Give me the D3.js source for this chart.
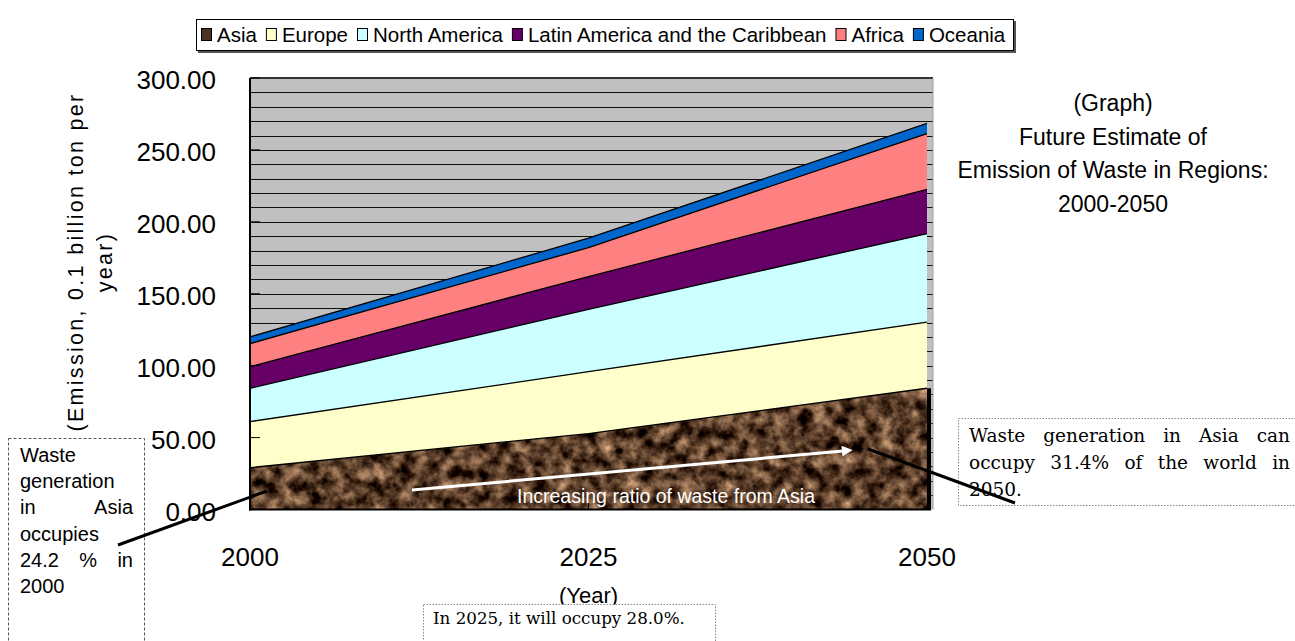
<!DOCTYPE html>
<html>
<head>
<meta charset="utf-8">
<script src="https://cdn.jsdelivr.net/npm/d3@7"></script>
<style>
  html, body { margin: 0; padding: 0; background: #fff; }
  svg { display: block; }
</style>
</head>
<body>
<svg id="chart" width="1295" height="641" font-family="Liberation Sans, Arial, sans-serif"></svg>
<script>
// Waste emission by region (0.1 billion ton per year)
const years = [2000, 2025, 2050];
const yearLabels = ["2000", "2025", "2050"];
const regions = ["Asia", "Europe", "North America", "Latin America and the Caribbean", "Africa", "Oceania"];
const asia = [29.1, 52.8, 84.3];
const europe = [32.0, 43.0, 46.0];
const northAmerica = [23.2, 43.4, 61.5];
const latinAmerica = [15.0, 22.7, 30.7];
const africa = [16.0, 20.2, 38.9];
const oceania = [4.7, 6.5, 7.0];
const yTicks = [0, 50, 100, 150, 200, 250, 300];
const gridValues = d3.range(10, 300, 10);

const seriesValues = [asia, europe, northAmerica, latinAmerica, africa, oceania];
const rows = years.map((yr, i) => {
  const r = { year: yr };
  regions.forEach((k, j) => r[k] = seriesValues[j][i]);
  return r;
});

const colors = {
  "Asia": "#4a3222",
  "Europe": "#ffffcc",
  "North America": "#ccffff",
  "Latin America and the Caribbean": "#660066",
  "Africa": "#ff8080",
  "Oceania": "#0066cc"
};

const SANS = "Liberation Sans, Arial, sans-serif";
const SERIF = "DejaVu Serif, Liberation Serif, serif";

const svg = d3.select("#chart");
const plot = { left: 250, right: 933, top: 78, bottom: 509.5 };

const x = d3.scaleLinear().domain([2000, 2050]).range([plot.left, 927]);
const y = d3.scaleLinear().domain([0, 300]).range([plot.bottom, plot.top]);

const defs = svg.append("defs");

// mottled brown texture for the Asia band
const filt = defs.append("filter").attr("id", "marble")
  .attr("filterUnits", "userSpaceOnUse")
  .attr("x", plot.left).attr("y", plot.top)
  .attr("width", plot.right - plot.left).attr("height", plot.bottom - plot.top)
  .attr("color-interpolation-filters", "sRGB");
filt.append("feTurbulence").attr("type", "fractalNoise")
  .attr("baseFrequency", "0.075").attr("numOctaves", 4).attr("seed", 7).attr("result", "n");
filt.append("feColorMatrix").attr("in", "n").attr("type", "matrix")
  .attr("values", "1.25 0 0 0 -0.27  1.05 0 0 0 -0.28  0.85 0 0 0 -0.26  0 0 0 0 1");

// plot background and grid
svg.append("rect")
  .attr("x", plot.left).attr("y", plot.top)
  .attr("width", plot.right - plot.left).attr("height", plot.bottom - plot.top)
  .attr("fill", "#c0c0c0");

svg.append("g").selectAll("line").data(gridValues).join("line")
  .attr("x1", plot.left).attr("x2", plot.right)
  .attr("y1", d => Math.round(y(d)) + 0.5).attr("y2", d => Math.round(y(d)) + 0.5)
  .attr("stroke", "#111").attr("stroke-width", 1);

svg.append("line")
  .attr("x1", plot.left).attr("x2", plot.right)
  .attr("y1", y(300)).attr("y2", y(300))
  .attr("stroke", "#333").attr("stroke-width", 2);
svg.append("line")
  .attr("x1", plot.right).attr("x2", plot.right)
  .attr("y1", y(300)).attr("y2", plot.bottom)
  .attr("stroke", "#a0a0a0").attr("stroke-width", 1);

// stacked areas
const stack = d3.stack().keys(regions);
const layers = stack(rows);
const area = d3.area()
  .x(d => x(d.data.year))
  .y0(d => y(d[0]))
  .y1(d => y(d[1]));

const clip = defs.append("clipPath").attr("id", "asiaClip");
clip.append("path").attr("d", area(layers[0]));

svg.append("rect")
  .attr("x", plot.left).attr("y", plot.top)
  .attr("width", plot.right - plot.left).attr("height", plot.bottom - plot.top)
  .attr("filter", "url(#marble)")
  .attr("clip-path", "url(#asiaClip)");

svg.append("g").selectAll("path").data(layers.slice(1)).join("path")
  .attr("d", area)
  .attr("fill", d => colors[d.key]);

// band boundaries
const topLine = d3.line().x(d => x(d.data.year)).y(d => y(d[1]));
svg.append("g").selectAll("path").data(layers).join("path")
  .attr("d", topLine)
  .attr("fill", "none")
  .attr("stroke", "#000")
  .attr("stroke-width", 1.3);

// right edge of the Asia band
svg.append("line")
  .attr("x1", x(2050) + 2).attr("x2", x(2050) + 2)
  .attr("y1", y(asia[2])).attr("y2", plot.bottom)
  .attr("stroke", "#000").attr("stroke-width", 4);

// axes
svg.append("line")
  .attr("x1", plot.left).attr("x2", plot.left)
  .attr("y1", plot.top).attr("y2", plot.bottom + 1)
  .attr("stroke", "#000").attr("stroke-width", 2);
svg.append("line")
  .attr("x1", plot.left - 1).attr("x2", x(2050) + 4)
  .attr("y1", plot.bottom).attr("y2", plot.bottom)
  .attr("stroke", "#000").attr("stroke-width", 2);

// inward tick marks
svg.append("g").selectAll("line").data(yTicks.slice(1)).join("line")
  .attr("x1", plot.left).attr("x2", plot.left + 10)
  .attr("y1", d => y(d)).attr("y2", d => y(d))
  .attr("stroke", "#000").attr("stroke-width", 1);
svg.append("line")
  .attr("x1", x(2025)).attr("x2", x(2025))
  .attr("y1", plot.bottom).attr("y2", plot.bottom - 6)
  .attr("stroke", "#000").attr("stroke-width", 1);

// y tick labels
svg.append("g").selectAll("text").data(yTicks).join("text")
  .attr("x", 216).attr("y", d => y(d) + 11)
  .attr("text-anchor", "end")
  .attr("font-size", 26)
  .attr("fill", "#000")
  .text(d => d.toFixed(2));

// x labels
svg.append("g").selectAll("text").data(years).join("text")
  .attr("x", d => x(d)).attr("y", 566)
  .attr("text-anchor", "middle")
  .attr("font-size", 26)
  .text((d, i) => yearLabels[i]);

svg.append("text")
  .attr("x", x(2025)).attr("y", 603)
  .attr("text-anchor", "middle")
  .attr("font-size", 22)
  .text("(Year)");

// y axis title
const yTitle = svg.append("text")
  .attr("transform", "translate(0,262) rotate(-90)")
  .attr("text-anchor", "middle")
  .attr("font-size", 21.5)
  .attr("letter-spacing", 2.3);
yTitle.append("tspan").attr("x", 0).attr("y", 83).text("(Emission, 0.1 billion ton per");
yTitle.append("tspan").attr("x", 0).attr("y", 112).text("year)");

// chart title on the right
const titleLines = ["(Graph)", "Future Estimate of", "Emission of Waste in Regions:", "2000-2050"];
svg.append("g").selectAll("text").data(titleLines).join("text")
  .attr("x", 1113).attr("y", (d, i) => 111 + i * 33.5)
  .attr("text-anchor", "middle")
  .attr("font-size", 23)
  .text(d => d);

// legend
const legend = svg.append("g");
legend.append("rect")
  .attr("x", 196.5).attr("y", 19.5).attr("width", 817).attr("height", 31)
  .attr("fill", "#fff").attr("stroke", "#000").attr("stroke-width", 1);
legend.append("path")
  .attr("d", "M1015,21 V52 H198")
  .attr("fill", "none").attr("stroke", "#555").attr("stroke-width", 2);
let lx = 201;
regions.forEach(k => {
  legend.append("rect")
    .attr("x", lx + 0.5).attr("y", 28.5).attr("width", 10).attr("height", 12)
    .attr("fill", colors[k]).attr("stroke", "#000").attr("stroke-width", 1);
  const t = legend.append("text")
    .attr("x", lx + 16).attr("y", 41.5)
    .attr("font-size", 20.5)
    .text(k);
  lx += 16 + t.node().getComputedTextLength() + 9;
});

// justified paragraph helper
function paragraph(g, lines, opts) {
  lines.forEach((words, i) => {
    const yy = opts.y + i * opts.lh;
    const justify = words.length > 1 && i < lines.length - 1;
    const nodes = words.map(w => g.append("text")
      .attr("font-family", opts.family)
      .attr("font-size", opts.size)
      .attr("fill", opts.fill || "#000")
      .attr("y", yy).text(w));
    const widths = nodes.map(n => n.node().getComputedTextLength());
    const total = d3.sum(widths);
    const gap = justify ? (opts.width - total) / (words.length - 1) : opts.size * 0.28;
    let cx = opts.x;
    nodes.forEach((n, j) => { n.attr("x", cx); cx += widths[j] + gap; });
  });
}

// annotation boxes
const notes = svg.append("g");
notes.append("rect")
  .attr("x", 8.5).attr("y", 438.5).attr("width", 136).attr("height", 220)
  .attr("fill", "#fff").attr("stroke", "#555").attr("stroke-width", 1)
  .attr("stroke-dasharray", "3,2");
paragraph(notes, [["Waste"], ["generation"], ["in", "Asia"], ["occupies"], ["24.2", "%", "in"], ["2000"]],
  { x: 20, y: 462, lh: 26.2, width: 113, size: 20, family: SANS });

notes.append("rect")
  .attr("x", 958.5).attr("y", 418.5).attr("width", 345).attr("height", 87)
  .attr("fill", "#fff").attr("stroke", "#888").attr("stroke-width", 1)
  .attr("stroke-dasharray", "1.5,1.5");
paragraph(notes, [["Waste", "generation", "in", "Asia", "can"], ["occupy", "31.4%", "of", "the", "world", "in"], ["2050."]],
  { x: 969, y: 442, lh: 27, width: 321, size: 18.5, family: SERIF });

notes.append("rect")
  .attr("x", 423.5).attr("y", 604.5).attr("width", 292).attr("height", 60)
  .attr("fill", "#fff").attr("stroke", "#888").attr("stroke-width", 1)
  .attr("stroke-dasharray", "1.5,1.5");
notes.append("text")
  .attr("x", 433).attr("y", 624)
  .attr("font-family", SERIF)
  .attr("font-size", 16.7)
  .text("In 2025, it will occupy 28.0%.");

// pointer lines
svg.append("line").attr("x1", 118).attr("y1", 545).attr("x2", 267).attr("y2", 491)
  .attr("stroke", "#000").attr("stroke-width", 3);
svg.append("line").attr("x1", 868).attr("y1", 449).attr("x2", 1015).attr("y2", 503)
  .attr("stroke", "#000").attr("stroke-width", 3);

// trend arrow inside the Asia band
defs.append("marker").attr("id", "head")
  .attr("viewBox", "0 0 10 10").attr("refX", 1).attr("refY", 5)
  .attr("markerWidth", 4.5).attr("markerHeight", 3.6).attr("orient", "auto")
  .attr("markerUnits", "strokeWidth")
  .append("path").attr("d", "M0,0 L10,5 L0,10 Z").attr("fill", "#fff");
svg.append("line").attr("x1", 412).attr("y1", 490).attr("x2", 843).attr("y2", 451)
  .attr("stroke", "#fff").attr("stroke-width", 3).attr("marker-end", "url(#head)");
svg.append("text")
  .attr("x", 517).attr("y", 503)
  .attr("font-size", 19.5).attr("fill", "#fff")
  .text("Increasing ratio of waste from Asia");
</script>
</body>
</html>
